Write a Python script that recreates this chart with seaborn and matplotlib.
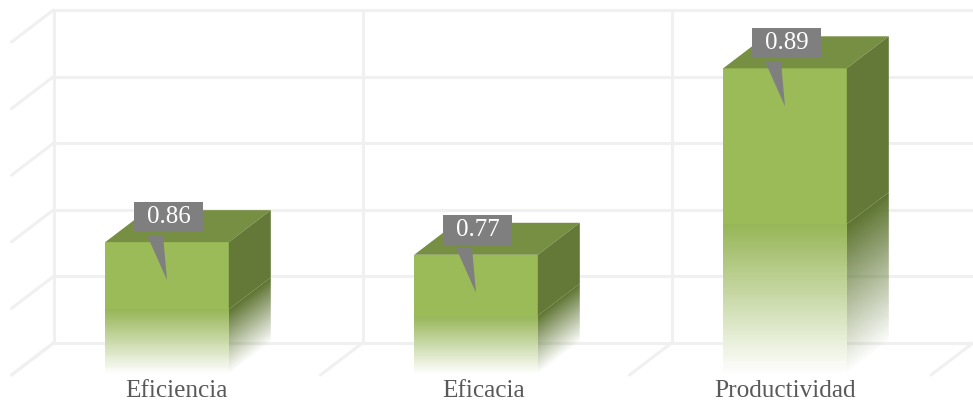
import numpy as np
import pandas as pd
import matplotlib
matplotlib.use("Agg")
import matplotlib.pyplot as plt
import seaborn as sns
from matplotlib.colors import to_rgb
from matplotlib.patches import Polygon, Rectangle

# Data
categories = ["Eficiencia", "Eficacia", "Productividad"]
bar_heights = [1.98, 1.79, 4.59]
bar_labels = ["0.86", "0.77", "0.89"]
label_shift = [0.029, 0.026, 0.0]  # tick labels are not quite centred on the bars
grid_levels = [0, 1, 2, 3, 4, 5]

W, H = 973, 405
FLOOR = 374
UNIT = 66.6
SPACING = 309.0
FIRST = 167.0

# colours
FRONT = "#9BBB59"
FRONT_DARK = "#96B556"
TOP = "#778F42"
SIDE = "#647838"
SIDE_DARK = "#5E7431"
GRID = "#F0F0F0"
CALLOUT = "#7F7F7F"
TEXT = "#595959"

sns.set_theme(style="white")
plt.rcParams["font.family"] = ["Liberation Serif", "DejaVu Serif"]

df = pd.DataFrame({"pos": np.arange(len(categories)), "valor": bar_heights})

fig = plt.figure(figsize=(W / 100, H / 100), dpi=100)
ax = fig.add_axes([0, (H - FLOOR) / H, 1, FLOOR / H])
sns.barplot(data=df, x="pos", y="valor", color=FRONT, saturation=1, width=0.4,
            native_scale=True, linewidth=0, ax=ax, zorder=2)

xlim = (-FIRST / SPACING, (W - FIRST) / SPACING)
ylim = (0, FLOOR / UNIT)
ax.set_xlim(xlim)
ax.set_ylim(ylim)
for s in ax.spines.values():
    s.set_visible(False)

# pixel helpers, depth of the fake 3d box
px_x = 1 / SPACING
px_y = 1 / UNIT
dx = 42 * px_x
dy = 32 * px_y

# back wall and floor
wall_base = 31 * px_y
wall_x = [i - 0.5 + dx - px_x for i in range(3)]
right = xlim[1]
for lev in grid_levels:
    y = wall_base + lev
    ax.plot([wall_x[0], right], [y, y], color=GRID, lw=2.2, zorder=0, solid_capstyle="butt")
    ax.plot([wall_x[0], wall_x[0] - dx], [y, y - dy], color=GRID, lw=2.2, zorder=0, clip_on=False)
top_wall = wall_base + grid_levels[-1]
for x in wall_x:
    ax.plot([x, x], [wall_base, top_wall], color=GRID, lw=2.2, zorder=0, solid_capstyle="butt")
    ax.plot([x, x - dx], [wall_base, wall_base - dy], color=GRID, lw=2.2, zorder=0, clip_on=False)
ax.plot([right, right - dx], [wall_base, wall_base - dy], color=GRID, lw=2.2, zorder=0, clip_on=False)

for patch, label in zip(ax.patches, bar_labels):
    x0 = patch.get_x()
    w = patch.get_width()
    h = patch.get_height()
    x1 = x0 + w
    xc = x0 + w / 2
    fade_h = h * 0.49

    ax.add_patch(Polygon([(x0, h), (x1, h), (x1 + dx, h + dy), (x0 + dx, h + dy)],
                         facecolor=TOP, edgecolor="none", zorder=3))
    ax.add_patch(Polygon([(x1, fade_h), (x1, h), (x1 + dx, h + dy), (x1 + dx, fade_h + dy)],
                         facecolor=SIDE, edgecolor="none", zorder=3))

    # fade of the lower part of the bar, front face
    n = 70
    ys = np.linspace(0, fade_h, n + 1)
    t = (ys[:-1] + ys[1:]) / 2 / fade_h
    front_rgba = np.ones((n, 1, 4))
    front_rgba[:, 0, :3] = np.array(to_rgb(FRONT_DARK)) * t[:, None] + (1 - t[:, None])
    X, Y = np.meshgrid([x0, x1], ys)
    ax.pcolormesh(X, Y, front_rgba, zorder=4, shading="flat")

    # side face, the fade runs along the depth diagonal so use a clipped image
    rows = int((fade_h + dy) / px_y) * 2
    cols = 84
    uu, vv = np.meshgrid(np.linspace(0, 1, cols), np.linspace(0, fade_h + dy, rows))
    st = np.clip((vv - uu * dy) / fade_h, 0, 1)
    side_rgba = np.ones((rows, cols, 4))
    side_rgba[..., :3] = to_rgb(SIDE_DARK)
    side_rgba[..., 3] = st
    im = ax.imshow(side_rgba, origin="lower", extent=(x1, x1 + dx, 0, fade_h + dy),
                   aspect="auto", zorder=4, interpolation="bilinear")
    clip = Polygon([(x1, 0), (x1, fade_h), (x1 + dx, fade_h + dy), (x1 + dx, dy)], transform=ax.transData)
    im.set_clip_path(clip)

    # callout box and its pointer
    bw, bh = 69 * px_x, 30 * px_y
    bx = xc - 33 * px_x
    by = h + 10 * px_y
    ax.add_patch(Rectangle((bx, by), bw, bh, facecolor=CALLOUT, edgecolor="none", zorder=6))
    ax.add_patch(Polygon([(xc - 20 * px_x, by - 3 * px_y), (xc - 4 * px_x, by - 3 * px_y), (xc, h - 38 * px_y)],
                         facecolor=CALLOUT, edgecolor="none", zorder=6))
    ax.text(bx + bw / 2, by + bh / 2, label, color="white", fontsize=18, ha="center", va="center", zorder=7)

ax.set_xlim(xlim)
ax.set_ylim(ylim)
ax.set_xticks([i + s for i, s in enumerate(label_shift)])
ax.set_xticklabels(categories, fontsize=18.2, color=TEXT)
ax.tick_params(axis="x", length=0, pad=4)
ax.set_yticks([])
ax.set_xlabel("")
ax.set_ylabel("")

fig.savefig("out.png", dpi=100, facecolor="white")
